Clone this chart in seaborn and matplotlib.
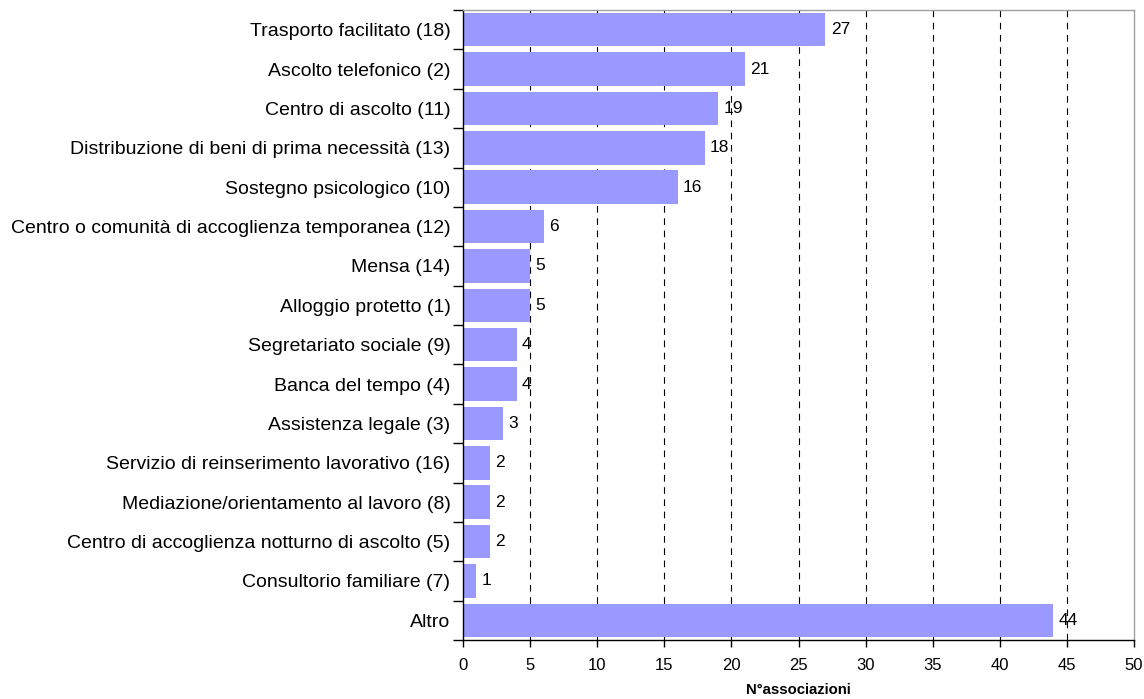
import matplotlib
matplotlib.use("Agg")
import matplotlib.pyplot as plt
import seaborn as sns
import pandas as pd
import numpy as np

categories = [
    "Trasporto facilitato (18)",
    "Ascolto telefonico (2)",
    "Centro di ascolto (11)",
    "Distribuzione di beni di prima necessità (13)",
    "Sostegno psicologico (10)",
    "Centro o comunità di accoglienza temporanea (12)",
    "Mensa (14)",
    "Alloggio protetto (1)",
    "Segretariato sociale (9)",
    "Banca del tempo (4)",
    "Assistenza legale (3)",
    "Servizio di reinserimento lavorativo (16)",
    "Mediazione/orientamento al lavoro (8)",
    "Centro di accoglienza notturno di ascolto (5)",
    "Consultorio familiare (7)",
    "Altro",
]
values = [27, 21, 19, 18, 16, 6, 5, 5, 4, 4, 3, 2, 2, 2, 1, 44]
x_ticks = [0, 5, 10, 15, 20, 25, 30, 35, 40, 45, 50]
x_label = "N°associazioni"

df = pd.DataFrame({"cat": categories, "val": values})

sns.set_theme(style="white")
plt.rcParams["font.family"] = ["Liberation Sans", "DejaVu Sans"]
plt.rcParams["text.color"] = "black"
plt.rcParams["xtick.color"] = "black"
plt.rcParams["ytick.color"] = "black"
plt.rcParams["axes.labelcolor"] = "black"

fig = plt.figure(figsize=(11.44, 6.99), dpi=100)
ax = fig.add_axes([463/1144, 1 - 640/699, (1134-463)/1144, (640-10)/699])

sns.barplot(data=df, x="val", y="cat", orient="h", color="#9999FF",
            saturation=1, width=0.85, ax=ax, edgecolor="none", linewidth=0)

ax.set_xlim(0, 50)
ax.set_ylim(len(categories) - 0.5, -0.5)
ax.set_xticks(x_ticks)
ax.set_xticklabels([str(t) for t in x_ticks], fontsize=12)
for t in x_ticks[1:-1]:
    ax.axvline(t, color="black", linestyle=(0, (6, 5)), linewidth=0.8, zorder=0.5)

ax.set_ylabel("")
ax.set_xlabel(x_label, fontsize=10.7, fontweight="bold", labelpad=7)
ax.tick_params(axis="y", which="major", length=0, labelsize=14, pad=9)
ax.set_yticks(np.arange(-0.5, len(categories)), minor=True)
ax.tick_params(axis="y", which="minor", length=7, width=1, color="black", direction="out", left=True)
ax.tick_params(axis="x", which="major", length=5, width=1, color="black", direction="out", bottom=True, pad=8)

for i, v in enumerate(values):
    ax.text(v + 0.4, i, str(v), va="center", ha="left", fontsize=12.5, color="black")

for s in ["left", "bottom"]:
    ax.spines[s].set_color("black")
    ax.spines[s].set_linewidth(1)
for s in ["top", "right"]:
    ax.spines[s].set_color("#a0a0a0")
    ax.spines[s].set_linewidth(1)

fig.savefig("out.png", dpi=100)
